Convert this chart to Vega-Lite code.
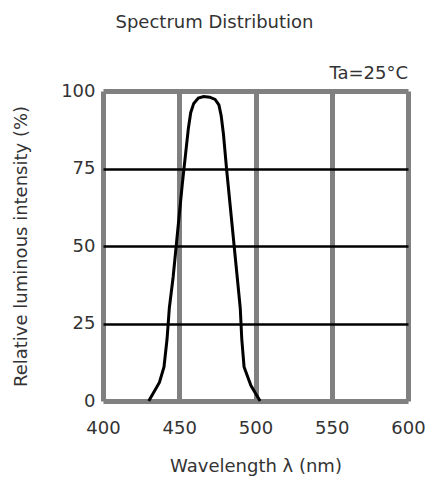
{
  "$schema": "https://vega.github.io/schema/vega-lite/v6.json",
  "autosize": {"type": "none"},
  "width": 305,
  "height": 310,
  "padding": {"left": 103, "top": 91, "right": 17, "bottom": 81},
  "background": "white",
  "title": {"text": "Spectrum Distribution", "font": "DejaVu Sans", "fontSize": 18, "fontWeight": "normal", "color": "#333", "anchor": "middle", "dx": -41, "offset": 33},
  "config": {
    "view": {"stroke": null},
    "axis": {"labelFont": "DejaVu Sans", "titleFont": "DejaVu Sans", "labelFontSize": 18, "titleFontSize": 18, "titleFontWeight": "normal", "labelColor": "#333", "titleColor": "#333", "domain": false, "ticks": false}
  },
  "layer": [
    {
      "data": {"values": [
        {"wavelength": 430, "intensity": 0},
        {"wavelength": 437, "intensity": 6},
        {"wavelength": 440, "intensity": 11},
        {"wavelength": 442, "intensity": 20},
        {"wavelength": 443.5, "intensity": 30},
        {"wavelength": 446, "intensity": 40},
        {"wavelength": 448, "intensity": 50},
        {"wavelength": 450, "intensity": 60},
        {"wavelength": 452, "intensity": 70},
        {"wavelength": 454, "intensity": 79},
        {"wavelength": 456, "intensity": 88},
        {"wavelength": 457.5, "intensity": 93},
        {"wavelength": 459.5, "intensity": 96},
        {"wavelength": 462.5, "intensity": 97.7},
        {"wavelength": 466, "intensity": 98.2},
        {"wavelength": 470, "intensity": 98},
        {"wavelength": 473.5, "intensity": 97.3},
        {"wavelength": 476, "intensity": 95.5},
        {"wavelength": 477.5, "intensity": 92},
        {"wavelength": 479, "intensity": 86},
        {"wavelength": 481, "intensity": 75},
        {"wavelength": 482, "intensity": 70},
        {"wavelength": 484, "intensity": 60},
        {"wavelength": 486, "intensity": 50},
        {"wavelength": 488, "intensity": 40},
        {"wavelength": 490, "intensity": 30},
        {"wavelength": 491, "intensity": 20},
        {"wavelength": 492.5, "intensity": 11},
        {"wavelength": 497, "intensity": 5},
        {"wavelength": 503, "intensity": 0}
      ]},
      "mark": {"type": "line", "color": "black", "strokeWidth": 3, "interpolate": "linear"},
      "encoding": {
        "x": {"field": "wavelength", "type": "quantitative", "scale": {"domain": [400, 600], "nice": false},
          "axis": {"values": [400, 450, 500, 550, 600], "title": "Wavelength  λ (nm)", "labelPadding": 18, "labelFlush": false, "labelOverlap": false, "titlePadding": 20, "grid": true, "gridColor": "#808080", "gridWidth": 5, "gridOpacity": 1}},
        "y": {"field": "intensity", "type": "quantitative", "scale": {"domain": [0, 100], "nice": false},
          "axis": {"values": [0, 25, 50, 75, 100], "title": "Relative luminous intensity (%)", "labelPadding": 8, "titlePadding": 30, "grid": true,
            "gridColor": {"condition": {"test": "datum.value == 0 || datum.value == 100", "value": "#808080"}, "value": "black"},
            "gridWidth": {"condition": {"test": "datum.value == 0 || datum.value == 100", "value": 5}, "value": 2.5}, "gridOpacity": 1}}
      }
    },
    {
      "data": {"values": [{"wavelength": 600, "intensity": 105.5, "label": "Ta=25°C"}]},
      "mark": {"type": "text", "align": "right", "baseline": "middle", "font": "DejaVu Sans", "fontSize": 18, "color": "#333"},
      "encoding": {
        "x": {"field": "wavelength", "type": "quantitative"},
        "y": {"field": "intensity", "type": "quantitative"},
        "text": {"field": "label"}
      }
    }
  ]
}
